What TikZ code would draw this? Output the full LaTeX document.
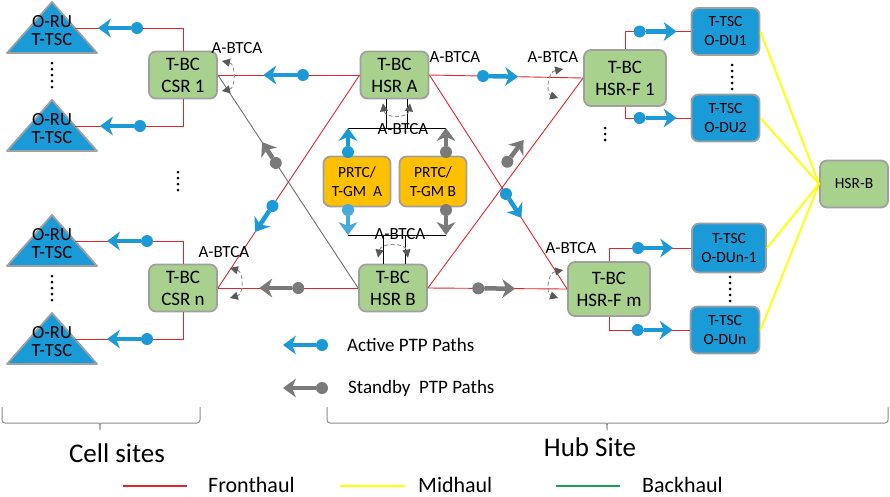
\documentclass[tikz,border=0pt]{standalone}
\usepackage{fontspec}
\setmainfont{Carlito}
\usetikzlibrary{arrows.meta,calc,positioning}
\definecolor{boxgreen}{HTML}{A9D18E}
\definecolor{edgegray}{HTML}{A0A0A0}
\definecolor{gmorange}{HTML}{FFC000}
\definecolor{tscblue}{HTML}{1A9AD6}
\definecolor{ptpblue}{HTML}{1B9AD7}
\definecolor{ptplight}{HTML}{46AADD}
\definecolor{ptpgray}{HTML}{7A7A7A}
\definecolor{fhred}{HTML}{E3262B}
\definecolor{mhyellow}{HTML}{FFFF00}
\definecolor{bhgreen}{HTML}{1AA150}
\definecolor{swgray}{HTML}{8C8C8C}
\definecolor{tipgray}{HTML}{595959}
\definecolor{linkgray}{HTML}{6E6E6E}

\begin{document}
\begin{tikzpicture}[x=1pt, y=-1pt,
  box/.style={rectangle, draw=edgegray, line width=1.8pt, fill=#1, rounded corners=7pt, align=center, inner sep=0pt,
    minimum width=68pt, minimum height=47pt, font=\fontsize{19}{22}\selectfont},
  small/.style={font=\fontsize{15.5}{19}\selectfont},
  tri/.style={draw=edgegray, line width=1.8pt, fill=tscblue, line join=round},
  fh/.style={draw=fhred, line width=0.9pt},
  mh/.style={draw=mhyellow, line width=1.8pt},
  bus/.style={draw=black, line width=0.9pt},
  ptp/.style={line width=4.5pt, {Circle[length=12pt,width=12pt,line width=0pt]}-{Stealth[length=13pt,width=19pt,inset=4pt,line width=0pt]}, shorten <=-6pt},
  active/.style={ptp, color=ptpblue},
  standby/.style={ptp, color=ptpgray},
  switch/.style={draw=swgray, line width=0.9pt, dash pattern=on 4pt off 2.5pt,
    {Triangle[length=8pt,width=8pt,color=tipgray]}-{Triangle[length=8pt,width=8pt,color=tipgray]}},
  tag/.style={inner sep=0pt, font=\fontsize{17}{18}\selectfont},
  vdots/.style={line width=3pt, line cap=round, dash pattern=on 0pt off 6pt},
  bracket/.style={draw=swgray, line width=1pt, rounded corners=3pt}
]
  \useasboundingbox (0,0) rectangle (890,496);

  % cell site radio units
  \foreach \n/\y in {1/2,2/100,3/215,4/313}{
    \draw[tri] (7,\y+51) -- (52,\y) -- (97,\y+51) -- cycle;
    \node[align=center, inner sep=0pt, font=\fontsize{18.5}{18}\selectfont] (oru\n) at (52,\y+29) {O-RU\\T-TSC};
    \coordinate (oru\n e) at (75,\y+26);
  }

  % boundary clocks
  \node[box=boxgreen] (csr1) at (183,75) {T-BC\\CSR 1};
  \node[box=boxgreen] (csrn) at (183,288) {T-BC\\CSR n};
  \node[box=boxgreen] (hsra) at (394.5,75) {T-BC\\HSR A};
  \node[box=boxgreen] (hsrb) at (393,288) {T-BC\\HSR B};
  \node[box=boxgreen, minimum width=82pt, minimum height=56pt] (hsrf1) at (625,78) {T-BC\\HSR-F 1};
  \node[box=boxgreen, minimum width=82pt, minimum height=54pt] (hsrfm) at (609,289) {T-BC\\HSR-F m};
  \node[box=gmorange, small, minimum width=67pt, minimum height=50pt] (gma) at (357,181.5) {PRTC/\\T-GM\ \ A};
  \node[box=gmorange, small, minimum width=67pt, minimum height=50pt] (gmb) at (433,181.5) {PRTC/\\T-GM B};
  \node[box=tscblue, small] (du1) at (725.5,31.5) {T-TSC\\O-DU1};
  \node[box=tscblue, small] (du2) at (725.5,118) {T-TSC\\O-DU2};
  \node[box=tscblue, small, minimum width=74pt, minimum height=49pt] (dun1) at (729,248) {T-TSC\\O-DUn-1};
  \node[box=tscblue, small, minimum width=69pt] (dun) at (725,330) {T-TSC\\O-DUn};
  \node[box=boxgreen, small] (hsrmid) at (854,184) {HSR-B};

  % fronthaul / midhaul links
  \draw[fh] (csr1.north) |- (oru1e);
  \draw[fh] (csr1.south) |- (oru2e);
  \draw[fh] (csrn.north) |- (oru3e);
  \draw[fh] (csrn.south) |- (oru4e);
  \draw[fh] (csr1.east) -- (hsra.west);
  \draw[fh] (hsra.west) -- (csrn.east);
  \draw[fh] (csrn.east) -- (hsrb.west);
  \draw[draw=linkgray, line width=0.9pt] (csr1.east) -- (hsrb.west);
  \draw[fh] (hsra.east) -- (hsrf1.west);
  \draw[fh] (hsra.east) -- (hsrfm.west);
  \draw[fh] (hsrb.east) -- (hsrf1.west);
  \draw[fh] (hsrb.east) -- (hsrfm.west);
  \draw[fh] (hsrf1.north) |- (du1.west);
  \draw[fh] (hsrf1.south) |- (du2.west);
  \draw[fh] (hsrfm.north) |- (dun1.west);
  \draw[fh] (hsrfm.south) |- (dun.west);
  \foreach \d in {du1,du2,dun1,dun}
    \draw[mh] (\d.east) -- (hsrmid.west);

  % grandmaster bus
  \coordinate (ta) at (348,128);
  \coordinate (tb) at (446,128);
  \coordinate (ba) at (348,235);
  \coordinate (bb) at (446,235);
  \draw[bus] (ta) -- (tb);
  \draw[bus] ([xshift=-8.5pt]hsra.south) |- (ta);
  \draw[bus] ([xshift=12.5pt]hsra.south) |- (tb);
  \draw[bus] (ba) -- (bb);
  \draw[bus] ([xshift=-10pt]hsrb.north) |- (ba);
  \draw[bus] ([xshift=12pt]hsrb.north) |- (bb);

  % PTP paths
  \foreach \n/\c/\t in {1/62/23, 2/65/25, 3/72/32, 4/72/32}
    \draw[active] ($(oru\n e)+(\c,0)$) -- ($(oru\n e)+(\t,0)$);
  \foreach \d/\c/\t in {du1/-51/-14, du2/-51/-14, dun1/-53/-18, dun/-52/-17}
    \draw[active] ($(\d.west)+(\c,0)$) -- ($(\d.west)+(\t,0)$);
  \draw[active] ($(hsra.west)!.40!(csr1.east)$) -- ($(hsra.west)!.68!(csr1.east)$);
  \draw[active] ($(hsra.west)!.615!(csrn.east)$) -- ($(hsra.west)!.737!(csrn.east)$);
  \draw[standby] ($(hsrb.west)!.587!(csr1.east)$) -- ($(hsrb.west)!.685!(csr1.east)$);
  \draw[standby] ($(hsrb.west)!.427!(csrn.east)$) -- ($(hsrb.west)!.705!(csrn.east)$);
  \draw[active] ($(hsra.east)!.349!(hsrf1.west)$) -- ($(hsra.east)!.577!(hsrf1.west)$);
  \draw[active] ($(hsra.east)!.556!(hsrfm.west)$) -- ($(hsra.east)!.668!(hsrfm.west)$);
  \draw[standby] ($(hsrb.east)!.57!(hsrf1.west)+(-9,-6.5)$) -- ($(hsrb.east)!.674!(hsrf1.west)+(-9,-6.5)$);
  \draw[standby] ($(hsrb.east)!.362!(hsrfm.west)$) -- ($(hsrb.east)!.627!(hsrfm.west)$);
  \draw[active] ($(ta)+(0,24)$) -- (ta);
  \draw[standby] ($(tb)+(0,24)$) -- (tb);
  \draw[ptp, color=ptplight] ($(ba)+(0,-25)$) -- (ba);
  \draw[standby] ($(bb)+(0,-25)$) -- (bb);

  % A-BTCA switches
  \draw[switch] ([shift={(4,-14)}]csr1.east) .. controls +(14,3) and +(14,-3) .. ([shift={(4,16)}]csr1.east);
  \draw[switch] ([shift={(12,-20)}]csrn.east) .. controls +(14,4) and +(14,-4) .. ([shift={(12,10)}]csrn.east);
  \draw[switch] ([shift={(-20,-9)}]hsrf1.west) .. controls +(-16,3) and +(-12,-4) .. ([shift={(-25,20)}]hsrf1.west);
  \draw[switch] ([shift={(-4,-19)}]hsrfm.west) .. controls +(-16,3) and +(-12,-4) .. ([shift={(-9,9)}]hsrfm.west);
  \draw[switch] ([shift={(-11.5,4)}]hsra.south) .. controls +(2,15) and +(-2,15) .. ([shift={(15.5,4)}]hsra.south);
  \draw[switch] ([shift={(-15,-6)}]hsrb.north) .. controls +(3,-15) and +(-3,-15) .. ([shift={(15,-6)}]hsrb.north);
  \node[tag] (bt1) at (237,48) {A-BTCA};
  \node[tag] (bt2) at (455,57) {A-BTCA};
  \node[tag] (bt3) at (553,57) {A-BTCA};
  \node[tag] (bt4) at (403,129) {A-BTCA};
  \node[tag] (bt5) at (400,234) {A-BTCA};
  \node[tag] (bt6) at (224,252) {A-BTCA};
  \node[tag] (bt7) at (571,248) {A-BTCA};

  % more of the same
  \foreach \x/\a/\b in {52/63/88, 52/276/301, 178/172/196, 732/65/90, 730/277/302, 605/128/142}
    \draw[vdots] (\x,\a) -- (\x,\b);

  % legend of paths
  \node[anchor=west, inner sep=0pt, font=\fontsize{19}{20}\selectfont] (lgact) at (347,345) {Active PTP Paths};
  \node[anchor=west, inner sep=0pt, font=\fontsize{19}{20}\selectfont] (lgstb) at (348,388) {Standby\ \ PTP Paths};
  \draw[active] ($(lgact.west)+(-25,0)$) -- ($(lgact.west)+(-64,0)$);
  \draw[standby] ($(lgstb.west)+(-26,0)$) -- ($(lgstb.west)+(-65,0)$);

  % sites
  \draw[bracket] (2,407) -- (2,423) -- (96,423) .. controls (100,423) and (100,426) .. (100,432)
    .. controls (100,426) and (100,423) .. (104,423) -- (200,423) -- (200,407);
  \draw[bracket] (327,407) -- (327,423) -- (603,423) .. controls (607,423) and (607,426) .. (607,432)
    .. controls (607,426) and (607,423) .. (611,423) -- (888,423) -- (888,407);
  \node[font=\fontsize{27}{30}\selectfont] (cells) at (117,453) {Cell sites};
  \node[font=\fontsize{27}{30}\selectfont] (hub) at (590,447) {Hub Site};

  % legend of links
  \node[anchor=base west, inner sep=0pt, font=\fontsize{22}{24}\selectfont] (lgfh) at (208,492) {Fronthaul};
  \node[anchor=base west, inner sep=0pt, font=\fontsize{22}{24}\selectfont] (lgmh) at (418,492) {Midhaul};
  \node[anchor=base west, inner sep=0pt, font=\fontsize{22}{24}\selectfont] (lgbh) at (642,492) {Backhaul};
  \draw[draw=fhred, line width=2pt] ($(lgfh.west)+(-21,2)$) -- ($(lgfh.west)+(-85,2)$);
  \draw[draw=mhyellow, line width=2pt] ($(lgmh.west)+(-13,2)$) -- ($(lgmh.west)+(-78,2)$);
  \draw[draw=bhgreen, line width=2pt] ($(lgbh.west)+(-22,2)$) -- ($(lgbh.west)+(-86,2)$);
\end{tikzpicture}
\end{document}
